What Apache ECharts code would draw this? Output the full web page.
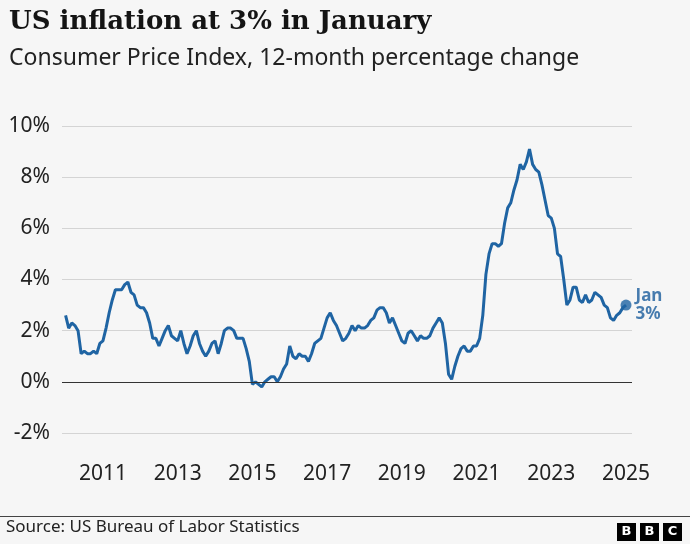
<!DOCTYPE html>
<html>
<head>
<meta charset="utf-8">
<script src="https://cdn.jsdelivr.net/npm/echarts@6/dist/echarts.min.js"></script>
<style>
  html, body { margin: 0; padding: 0; background: #f6f6f6; }
  #chart { width: 690px; height: 544px; }
</style>
</head>
<body>
<div id="chart"></div>
<script>
// US CPI, 12-month % change, monthly Jan 2010 - Jan 2025
const startYear = 2010;
const cpi2010 = [2.6, 2.1, 2.3, 2.2, 2.0, 1.1, 1.2, 1.1, 1.1, 1.2, 1.1, 1.5];
const cpi2011 = [1.6, 2.1, 2.7, 3.2, 3.6, 3.6, 3.6, 3.8, 3.9, 3.5, 3.4, 3.0];
const cpi2012 = [2.9, 2.9, 2.7, 2.3, 1.7, 1.7, 1.4, 1.7, 2.0, 2.2, 1.8, 1.7];
const cpi2013 = [1.6, 2.0, 1.5, 1.1, 1.4, 1.8, 2.0, 1.5, 1.2, 1.0, 1.2, 1.5];
const cpi2014 = [1.6, 1.1, 1.5, 2.0, 2.1, 2.1, 2.0, 1.7, 1.7, 1.7, 1.3, 0.8];
const cpi2015 = [-0.1, 0.0, -0.1, -0.2, 0.0, 0.1, 0.2, 0.2, 0.0, 0.2, 0.5, 0.7];
const cpi2016 = [1.4, 1.0, 0.9, 1.1, 1.0, 1.0, 0.8, 1.1, 1.5, 1.6, 1.7, 2.1];
const cpi2017 = [2.5, 2.7, 2.4, 2.2, 1.9, 1.6, 1.7, 1.9, 2.2, 2.0, 2.2, 2.1];
const cpi2018 = [2.1, 2.2, 2.4, 2.5, 2.8, 2.9, 2.9, 2.7, 2.3, 2.5, 2.2, 1.9];
const cpi2019 = [1.6, 1.5, 1.9, 2.0, 1.8, 1.6, 1.8, 1.7, 1.7, 1.8, 2.1, 2.3];
const cpi2020 = [2.5, 2.3, 1.5, 0.3, 0.1, 0.6, 1.0, 1.3, 1.4, 1.2, 1.2, 1.4];
const cpi2021 = [1.4, 1.7, 2.6, 4.2, 5.0, 5.4, 5.4, 5.3, 5.4, 6.2, 6.8, 7.0];
const cpi2022 = [7.5, 7.9, 8.5, 8.3, 8.6, 9.1, 8.5, 8.3, 8.2, 7.7, 7.1, 6.5];
const cpi2023 = [6.4, 6.0, 5.0, 4.9, 4.0, 3.0, 3.2, 3.7, 3.7, 3.2, 3.1, 3.4];
const cpi2024 = [3.1, 3.2, 3.5, 3.4, 3.3, 3.0, 2.9, 2.5, 2.4, 2.6, 2.7, 2.9];
const cpi2025 = [3.0];

const xTickYears = [2011, 2013, 2015, 2017, 2019, 2021, 2023, 2025];
const yTicks = [-2, 0, 2, 4, 6, 8, 10];
const endLabelText = 'Jan\n3%';

const allYears = [cpi2010, cpi2011, cpi2012, cpi2013, cpi2014, cpi2015, cpi2016, cpi2017,
  cpi2018, cpi2019, cpi2020, cpi2021, cpi2022, cpi2023, cpi2024, cpi2025];
const seriesData = [];
allYears.forEach((arr, yi) => {
  arr.forEach((v, m) => seriesData.push([startYear + yi + m / 12, v]));
});
const lastPoint = seriesData[seriesData.length - 1];

const BLUE = '#1f64a3';
const TEXT = '#222222';
const SANS = '"Noto Sans", "Open Sans", sans-serif';

const chart = echarts.init(document.getElementById('chart'), null, { renderer: 'canvas' });
chart.setOption({
  backgroundColor: '#f6f6f6',
  animation: false,
  title: [{
    text: 'US inflation at 3% in January',
    left: 4, top: 4,
    textStyle: { fontFamily: '"DejaVu Serif", serif', fontSize: 26, fontWeight: 'bold', color: '#141414' }
  }, {
    text: 'Consumer Price Index, 12-month percentage change',
    left: 4, top: 42,
    textStyle: { fontFamily: SANS, fontSize: 23, fontWeight: 'normal', color: TEXT }
  }],
  grid: { left: 62, right: 58, top: 126, bottom: 111, containLabel: false },
  xAxis: {
    type: 'value',
    min: 2009.904,
    max: 2025.16,
    splitLine: { show: false },
    axisLine: { show: false },
    axisTick: { show: false },
    axisLabel: {
      customValues: xTickYears,
      formatter: v => String(Math.round(v)),
      fontFamily: SANS, fontSize: 21, color: TEXT, margin: 31
    }
  },
  yAxis: {
    type: 'value',
    min: yTicks[0], max: yTicks[yTicks.length - 1], interval: 2,
    axisLine: { show: false },
    axisTick: { show: false },
    splitLine: { lineStyle: { color: '#d4d4d4', width: 1 } },
    axisLabel: {
      formatter: v => v + '%',
      fontFamily: SANS, fontSize: 21, color: TEXT, margin: 12
    }
  },
  series: [{
    type: 'line',
    data: seriesData,
    symbol: 'none',
    lineStyle: { color: BLUE, width: 3 },
    markLine: {
      silent: true, symbol: 'none', label: { show: false },
      lineStyle: { color: '#333333', width: 1.2, type: 'solid' },
      data: [{ yAxis: 0 }]
    }
  }, {
    type: 'scatter',
    data: [lastPoint],
    symbolSize: 11,
    itemStyle: { color: BLUE },
    label: {
      show: true, position: 'right', distance: 4,
      formatter: endLabelText,
      fontFamily: SANS, fontSize: 17, fontWeight: 'bold', color: '#1a5c9c', lineHeight: 18
    }
  }],
  graphic: [
    { type: 'line', shape: { x1: 0, y1: 516.5, x2: 690, y2: 516.5 }, style: { stroke: '#444', lineWidth: 1 } },
    { type: 'text', left: 6, top: 519, style: { text: 'Source: US Bureau of Labor Statistics', font: '17px "Noto Sans", sans-serif', fill: TEXT } },
    { type: 'rect', shape: { x: 617, y: 523, width: 19, height: 18 }, style: { fill: '#000' } },
    { type: 'rect', shape: { x: 640, y: 523, width: 19, height: 18 }, style: { fill: '#000' } },
    { type: 'rect', shape: { x: 663, y: 523, width: 19, height: 18 }, style: { fill: '#000' } },
    { type: 'text', x: 626.5, y: 532, style: { text: 'B', font: 'bold 13px "DejaVu Sans", sans-serif', fill: '#fff', align: 'center', verticalAlign: 'middle' } },
    { type: 'text', x: 649.5, y: 532, style: { text: 'B', font: 'bold 13px "DejaVu Sans", sans-serif', fill: '#fff', align: 'center', verticalAlign: 'middle' } },
    { type: 'text', x: 672.5, y: 532, style: { text: 'C', font: 'bold 13px "DejaVu Sans", sans-serif', fill: '#fff', align: 'center', verticalAlign: 'middle' } }
  ]
});
</script>
</body>
</html>
